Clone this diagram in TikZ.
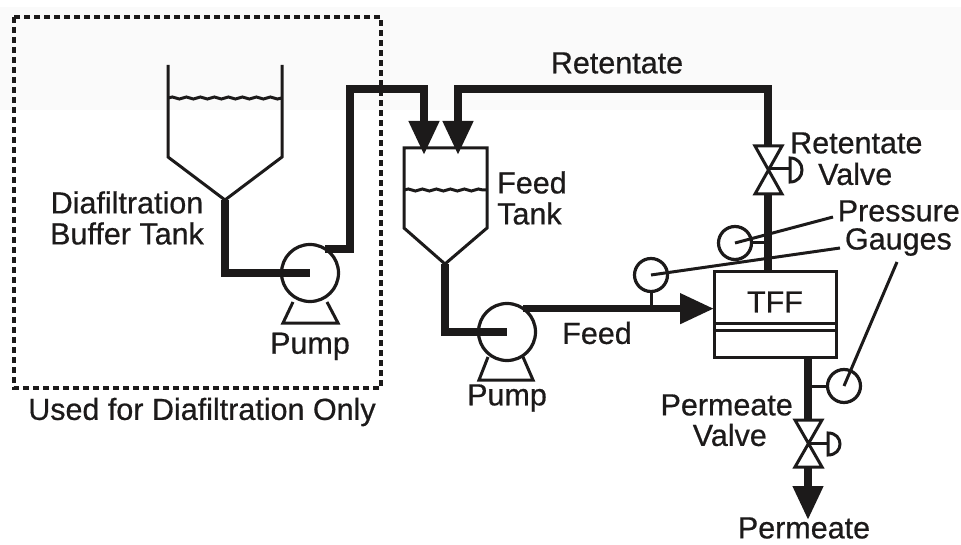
\documentclass[tikz,border=0pt]{standalone}
\usepackage{fontspec}
\setmainfont{Liberation Sans}
\newfontfamily\lblfont[RawFeature={embolden=0.6}]{Liberation Sans}
\usepackage{tikz}
\usetikzlibrary{positioning, arrows.meta, decorations.pathmorphing}

\definecolor{inkc}{HTML}{1C1A1A}

\begin{document}
\begin{tikzpicture}[
    x=1pt, y=-1pt,
    every node/.style={text=inkc},
    lbl/.style={font=\lblfont\fontsize{30.5}{31}\selectfont, align=center, inner sep=0pt},
    pipe/.style={draw=inkc, line width=7.5pt, line join=miter},
    pipearrow/.style={pipe, -{Triangle[length=34pt, width=29pt]}},
    wall/.style={draw=inkc, line width=3pt, line join=miter},
    liquid/.style={draw=inkc, line width=3pt, decorate, decoration={snake, amplitude=1pt, segment length=14pt}},
    thinline/.style={draw=inkc, line width=3pt},
    pump/.style={circle, draw=inkc, line width=3.2pt, minimum size=57pt, inner sep=0pt, outer sep=0pt},
    gauge/.style={circle, draw=inkc, line width=3.2pt, minimum size=33pt, inner sep=0pt, outer sep=0pt}
]
\useasboundingbox (0,0) rectangle (961,545);
\fill[black!2] (0,7) rectangle (961,110);

% diafiltration part
\draw[inkc, line width=3.5pt, dash pattern=on 6pt off 4pt] (14,17) rectangle (381,388);
\node[lbl] (used_l) at (202,412) {Used for Diafiltration Only};

\coordinate (dtank_o) at (225,200);
\draw[wall] (168,65) -- (168,157) -- (dtank_o) -- (282,157) -- (282,65);
\draw[liquid] (168,98) -- (282,98);
\node[lbl] (dtank_l) at (127,218) {Diafiltration \\ Buffer Tank};

\node[pump] (dpump) at (310,273) {};
\draw[wall] (293,302) -- (283,323) -- (338,323) -- (327,302);
\node[lbl, below=7pt of dpump, yshift=-24pt] (dpump_l) {Pump};
\draw[pipe] (dtank_o) |- (dpump.center);
\coordinate (ftank_a) at (424,155);
\draw[pipearrow] (dpump.58) -| (350,89) -| (ftank_a);

% feed tank and feed line
\coordinate (ftank_o) at (445,264);
\coordinate (ftank_b) at (458,155);
\draw[wall] (404,228) -- (404,148) -- (487,148) -- (487,228) -- (ftank_o) -- cycle;
\draw[liquid] (404,190) -- (487,190);
\node[lbl, align=left, anchor=west] (ftank_l) at (497,198) {Feed \\ Tank};

\node[pump] (fpump) at (507,332) {};
\draw[wall] (488,357) -- (479,380) -- (533,380) -- (523,357);
\node[lbl] (fpump_l) at (507,398) {Pump};
\draw[pipe] (ftank_o) |- (fpump.center);

\node[draw=inkc, line width=3pt, minimum width=122pt, minimum height=85pt, inner sep=0pt, outer sep=0pt] (tff) at (775,314.5) {};
\node[lbl] (tff_l) at (775,302) {TFF};
\draw[thinline] (713,323) -- (837,323);
\draw[thinline] (713,330) -- (837,330);

\draw[pipearrow] (fpump.55) -- (fpump.55 -| tff.west);
\node[lbl] (feed_l) at (597,333) {Feed};

% retentate line
\coordinate (rvalve) at (768,169);
\draw[pipearrow] (rvalve |- 0,146) -- (rvalve |- 0,89) -| (ftank_b);
\draw[pipe] (tff.north -| rvalve) -- (rvalve |- 0,194);
\draw[wall] (755,146) -- (782,146) -- (755,194) -- (782,194) -- cycle;
\draw[thinline] (rvalve) -- (790,169);
\draw[wall] (790,158) .. controls (806,158) and (806,182) .. (790,182) -- cycle;
\node[lbl] (ret_l) at (617,63) {Retentate};
\node[lbl, anchor=west] (rv1_l) at (790,143) {Retentate};
\node[lbl, anchor=west] (rv2_l) at (818,174) {Valve};

% permeate line
\coordinate (pvalve) at (808,443);
\draw[pipe] (tff.south -| pvalve) -- (pvalve |- 0,420);
\draw[wall] (795,420) -- (822,420) -- (795,467) -- (822,467) -- cycle;
\draw[thinline] (pvalve) -- (828,443);
\draw[wall] (828,433) .. controls (844,433) and (844,455) .. (828,455) -- cycle;
\coordinate (perm_e) at (808,520);
\draw[pipearrow] (pvalve |- 0,467) -- (perm_e);
\node[lbl, anchor=east] (pv1_l) at (793,405) {Permeate};
\node[lbl, anchor=east] (pv2_l) at (767,435) {Valve};
\node[lbl] (perm_l) at (804,528) {Permeate};

% gauges
\node[lbl, anchor=east] (pres_l) at (960,211) {Pressure};
\node[lbl, anchor=east] (gaug_l) at (952,242) {Gauges};
\coordinate (pres_e) at (833,217);
\coordinate (gaug_e) at (840,248);
\coordinate (gaug_f) at (897,262);
\node[gauge] (g_ret) at (735,243) {};
\node[gauge] (g_fed) at (651,275) {};
\node[gauge] (g_per) at (844,386) {};
\draw[thinline] (g_ret.east) -- (g_ret.east -| rvalve);
\draw[thinline] (g_fed.south) -- (g_fed.south |- fpump.55);
\draw[thinline] (g_per.west) -- (g_per.west -| pvalve);
\draw[thinline] (g_ret.center) -- (pres_e);
\draw[thinline] (g_fed.center) -- (gaug_e);
\draw[thinline] (g_per.center) -- (gaug_f);
\end{tikzpicture}
\end{document}
